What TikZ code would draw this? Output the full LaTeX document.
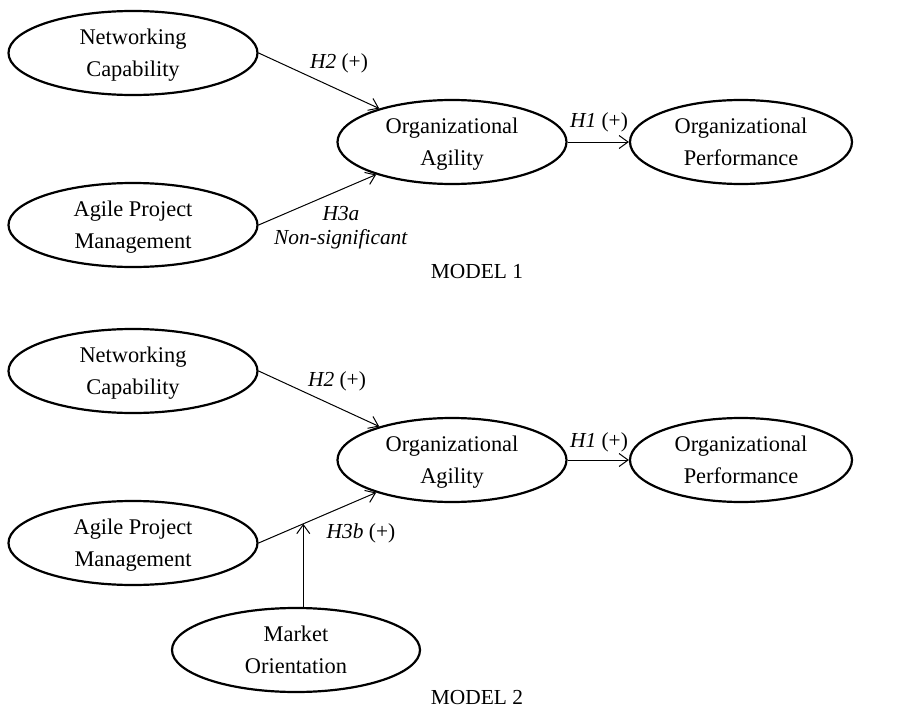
\documentclass[tikz,border=0pt]{standalone}
\usepackage{fontspec}
\setmainfont{Liberation Serif}
\usetikzlibrary{arrows.meta, shapes.geometric, positioning}
\tikzset{>={Straight Barb[length=4.5pt,width=6.5pt]}}
\tikzset{
  construct/.style={ellipse, draw, line width=1.1pt, inner sep=0pt, minimum height=42pt,
    align=center, text depth=-1pt, font=\fontsize{11.2}{16}\selectfont},
  path/.style={->, line width=.5pt},
  hyp/.style={inner sep=1pt, align=center}
}

\begin{document}
\begin{tikzpicture}[x=.5pt, y=-.5pt, font=\fontsize{10.7}{16}\selectfont]
  \useasboundingbox (0,0) rectangle (901,712);
  \begin{scope}
  % model 1
  \node[construct, minimum width=124.5pt] (nc1) at (133,53) {Networking\\Capability};
  \node[construct, minimum width=124.5pt] (apm1) at (133,225) {Agile Project\\Management};
  \node[construct, minimum width=114.5pt] (oa1) at (452,142) {Organizational\\Agility};
  \node[construct, minimum width=111pt] (op1) at (741,142) {Organizational\\Performance};

  \draw[path] (nc1.east) -- (oa1);
  \draw[path] (apm1.east) -- (oa1);
  \draw[path] (oa1) -- (op1);

  \node[hyp] (h2a) at (339,63) {\textit{H2} (+)};
  \node[hyp, font=\fontsize{10.7}{12}\selectfont] (h3a) at (341,228) {\textit{H3a}\\\textit{Non-significant}};
  \node[hyp] (h1a) at (599,122) {\textit{H1} (+)};
  \node (m1) at (477,272) {MODEL 1};
  \end{scope}

  \begin{scope}
  % model 2
  \node[construct, minimum width=124.5pt] (nc2) at (133,371) {Networking\\Capability};
  \node[construct, minimum width=124.5pt] (apm2) at (133,543) {Agile Project\\Management};
  \node[construct, minimum width=114.5pt] (oa2) at (452,460) {Organizational\\Agility};
  \node[construct, minimum width=111pt] (op2) at (741,460) {Organizational\\Performance};
  \node[construct, minimum width=124pt] (mo2) at (296,650) {Market\\Orientation};

  \draw[path] (nc2.east) -- (oa2);
  \draw[path] (apm2.east) -- coordinate[pos=.38] (mod) (oa2);
  \draw[path] (oa2) -- (op2);
  \draw[path] (mod |- mo2.north) -- (mod);

  \node[hyp] (h2b) at (337,381) {\textit{H2} (+)};
  \node[hyp] (h3b) at (361,533) {\textit{H3b} (+)};
  \node[hyp] (h1b) at (599,442) {\textit{H1} (+)};
  \node (m2) at (477,698) {MODEL 2};
  \end{scope}
\end{tikzpicture}
\end{document}
